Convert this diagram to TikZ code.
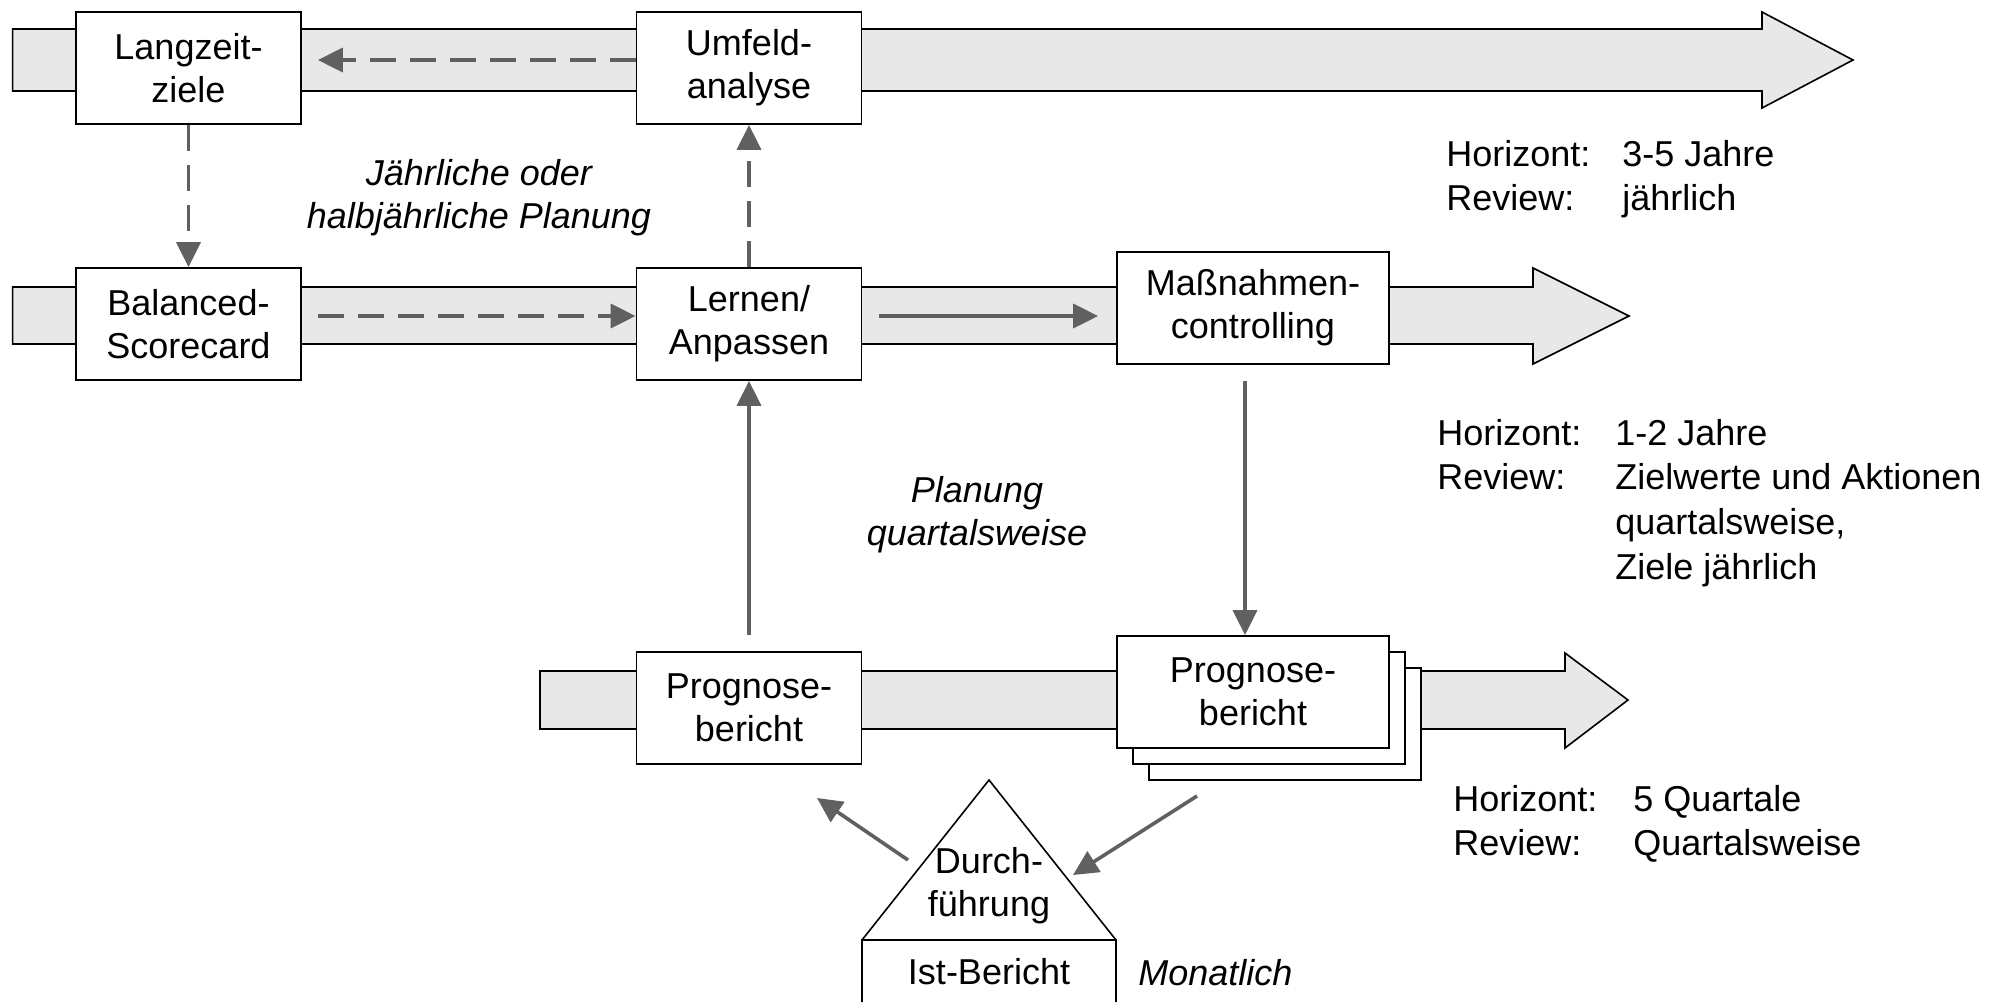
\documentclass[tikz,border=0pt]{standalone}
\usepackage{fontspec}
\setmainfont{Liberation Sans}
\usetikzlibrary{arrows.meta,calc}
\definecolor{bandfill}{HTML}{E8E8E8}
\definecolor{conncol}{HTML}{606060}
\begin{document}
\begin{tikzpicture}[x=0.5pt,y=-0.5pt,
  band/.style={fill=bandfill,draw=black,line width=0.8pt,line join=miter},
  box/.style={draw=black,fill=white,line width=0.9pt,minimum width=112.5pt,minimum height=56pt,align=center,inner sep=0pt,font=\fontsize{18}{21.5}\selectfont},
  widebox/.style={box,minimum width=136pt},
  conn/.style={draw=conncol,line width=1.8pt,-{Triangle[length=12.5pt,width=12pt]}},
  dashconn/.style={conn,dash pattern=on 13pt off 7pt},
  lbl/.style={font=\fontsize{18}{21.5}\selectfont,inner sep=0pt,align=center},
  itlbl/.style={lbl,font=\fontsize{18}{21.5}\selectfont\itshape},
  info/.style={anchor=base west,inner sep=0pt,font=\fontsize{18}{22.4}\selectfont},
]
\clip (0,0) rectangle (2015,1002);
\fill[white] (0,0) rectangle (2015,1002);

% bands
\draw[band] (12.6,29) -- (1762,29) -- (1762,12) -- (1853,60) -- (1762,108) -- (1762,91) -- (12.6,91) -- cycle;
\draw[band] (12.6,287) -- (1533,287) -- (1533,268) -- (1629,316) -- (1533,364) -- (1533,344) -- (12.6,344) -- cycle;
\draw[band] (540,671) -- (1565,671) -- (1565,653) -- (1628,700) -- (1565,748) -- (1565,729) -- (540,729) -- cycle;
\coordinate (tb) at (0,60);
\coordinate (mb) at (0,316);

% boxes
\node[box] (lz) at (188.5,68) {Langzeit-\\ziele};
\node[box] (um) at (749,68) {Umfeld-\\analyse};
\node[box] (bs) at (188.5,324) {Balanced-\\Scorecard};
\node[box] (la) at (749,324) {Lernen/\\Anpassen};
\node[widebox] (mc) at (1253,308) {Maßnahmen-\\controlling};
\node[box] (pb1) at (749,708) {Prognose-\\bericht};
\node[widebox] (pb2c) at (1285,724) {};
\node[widebox] (pb2b) at (1269,708) {};
\node[widebox] (pb2) at (1253,692) {Prognose-\\bericht};

% connectors
\draw[dashconn] (um.west |- tb) -- ($(lz.east |- tb)+(16,0)$);
\draw[dashconn] (lz.south) -- (bs.north);
\draw[dashconn] ($(bs.east |- mb)+(16,0)$) -- (la.west |- mb);
\draw[dashconn] (la.north) -- (um.south);
\draw[conn] ($(la.east |- mb)+(17,0)$) -- ($(mc.west |- mb)+(-18,0)$);
\draw[conn] ($(mc.south)+(-8,16)$) -- ($(pb2.north)+(-8,0)$);
\draw[conn] ($(pb1.north)+(0,-16)$) -- (la.south);

% Durchfuehrung triangle and Ist-Bericht
\coordinate (tA) at (989,780);
\coordinate (tL) at (862,940);
\coordinate (tR) at (1116,940);
\draw[line width=0.8pt,line join=miter] (tL) -- (tA) -- (tR);
\draw[line width=0.9pt,fill=white] (862,940) rectangle (1116,1030);
\node[lbl] (df) at (989,886) {Durch-\\führung};
\node[lbl] (ist) at (989,972) {Ist-Bericht};
\node[itlbl,anchor=base west] (mon) at (1138,985) {Monatlich};

\coordinate (d1s) at (908,860);
\coordinate (d1e) at (817,798);
\draw[conn] (d1s) -- (d1e);
\coordinate (d2s) at (1197,796);
\coordinate (d2e) at (1073,875);
\draw[conn] (d2s) -- (d2e);

% italic labels
\node[itlbl] (t1) at (479,198) {Jährliche oder\\halbjährliche Planung};
\node[itlbl] (t2) at (977,515) {Planung\\quartalsweise};

% info blocks
\node[info] (h1) at (1446,166) {\begin{tabular}[t]{@{}p{88pt}@{}l@{}}Horizont: & 3-5 Jahre\\ Review: & jährlich\end{tabular}};
\node[info] (h2) at (1437,445) {\begin{tabular}[t]{@{}p{89pt}@{}l@{}}Horizont: & 1-2 Jahre\\ Review: & Zielwerte und Aktionen\\ & quartalsweise,\\ & Ziele jährlich\end{tabular}};
\node[info] (h3) at (1453,811) {\begin{tabular}[t]{@{}p{90pt}@{}l@{}}Horizont: & 5 Quartale\\ Review: & Quartalsweise\end{tabular}};
\end{tikzpicture}
\end{document}
